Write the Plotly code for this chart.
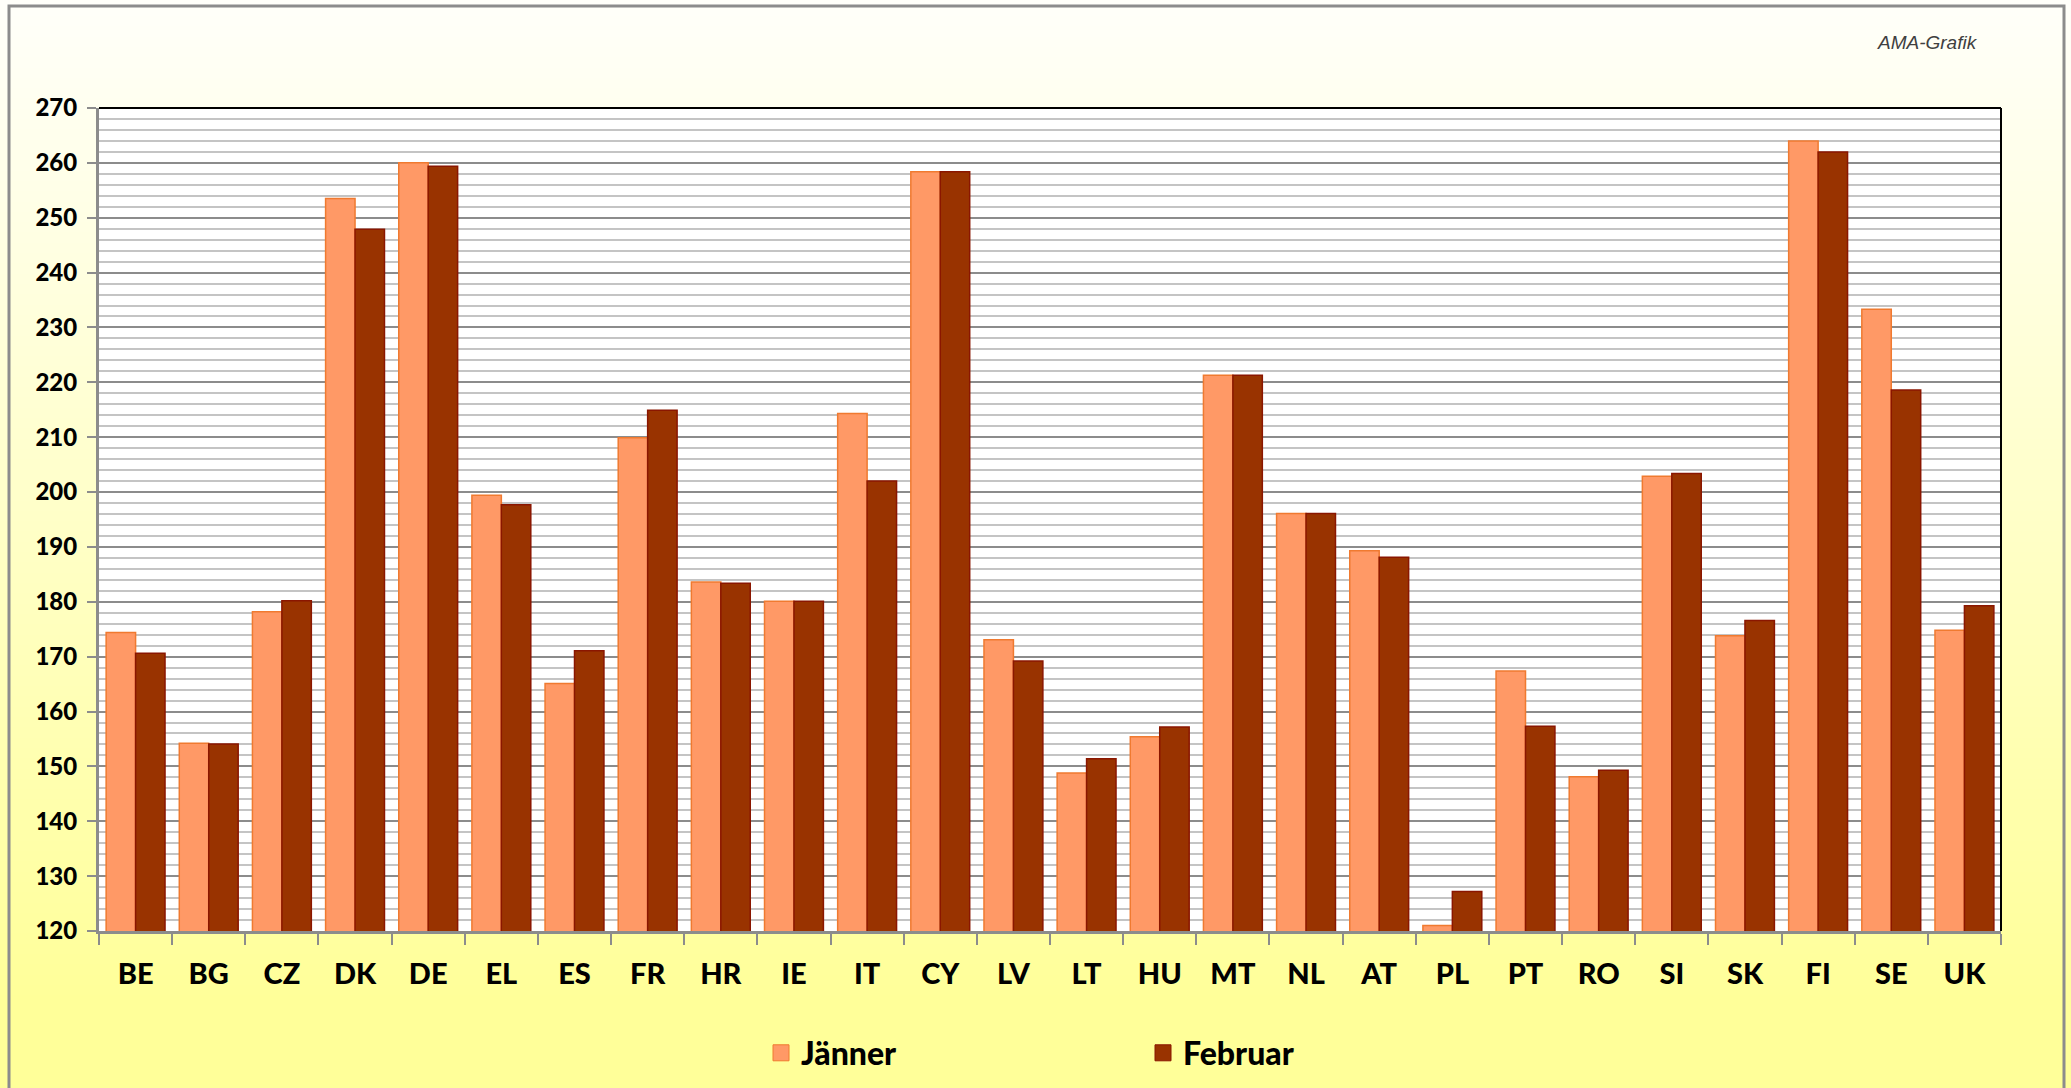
import base64, struct, zlib
import plotly.graph_objects as go

categories = ["BE", "BG", "CZ", "DK", "DE", "EL", "ES", "FR", "HR", "IE", "IT", "CY", "LV",
              "LT", "HU", "MT", "NL", "AT", "PL", "PT", "RO", "SI", "SK", "FI", "SE", "UK"]
jaenner = [174.4, 154.2, 178.2, 253.5, 260.0, 199.4, 165.1, 209.9, 183.6, 180.1, 214.3, 258.4, 173.1,
           148.8, 155.4, 221.3, 196.1, 189.3, 121.0, 167.4, 148.1, 202.9, 173.8, 264.0, 233.3, 174.8]
februar = [170.6, 154.1, 180.2, 247.9, 259.4, 197.7, 171.1, 214.9, 183.4, 180.1, 202.0, 258.4, 169.2,
           151.4, 157.2, 221.3, 196.1, 188.1, 127.2, 157.3, 149.3, 203.4, 176.6, 262.0, 218.6, 179.3]
y_range = [120, 270]
series_names = ["Jänner", "Februar"]

W, H = 2071, 1088
ML, MR, MT, MB = 99, 70, 108, 157
PW, PH = W - ML - MR, H - MT - MB


def gradient_png(h):
    raw = b""
    for i in range(h):
        t = min(i / 1000.0, 1.0)
        b = round(250 - (250 - 153) * t)
        raw += b"\x00" + bytes([255, 255, b])

    def chunk(tag, data):
        c = tag + data
        return struct.pack(">I", len(data)) + c + struct.pack(">I", zlib.crc32(c) & 0xFFFFFFFF)

    png = b"\x89PNG\r\n\x1a\n"
    png += chunk(b"IHDR", struct.pack(">IIBBBBB", 1, h, 8, 2, 0, 0, 0))
    png += chunk(b"IDAT", zlib.compress(raw))
    png += chunk(b"IEND", b"")
    return "data:image/png;base64," + base64.b64encode(png).decode()


FONT = "Lato"
fig = go.Figure()
fig.add_trace(go.Bar(x=categories, y=jaenner, name=series_names[0], showlegend=False,
                     marker=dict(color="#FF9966", line=dict(color="#F07A30", width=1.5))))
fig.add_trace(go.Bar(x=categories, y=februar, name=series_names[1], showlegend=False,
                     marker=dict(color="#993300", line=dict(color="#8A1600", width=1.5))))
# legend entries
fig.add_trace(go.Scatter(x=[None], y=[None], mode="markers", name=series_names[0],
                         marker=dict(symbol="square", size=16, color="#FF9966",
                                     line=dict(color="#F07A30", width=1))))
fig.add_trace(go.Scatter(x=[None], y=[None], mode="markers", name=series_names[1],
                         marker=dict(symbol="square", size=16, color="#993300",
                                     line=dict(color="#8A1600", width=1))))


def px_x(px):
    return (px - ML) / PW


def px_y(py):
    return (H - MB - py) / PH


fig.update_layout(
    width=W, height=H,
    margin=dict(l=ML, r=MR, t=MT, b=MB, autoexpand=False),
    paper_bgcolor="#FFFFFA",
    plot_bgcolor="white",
    barmode="group", bargap=0.195, bargroupgap=0,
    font=dict(family=FONT, color="black"),
    xaxis=dict(
        type="category", tickson="boundaries", ticks="outside", ticklen=11, tickwidth=2,
        tickcolor="#8C8C8C", showline=True, linecolor="#8C8C8C", linewidth=3,
        showgrid=False, tickfont=dict(family=FONT, size=29, weight=900, color="black"),
        ticklabelstandoff=15,
    ),
    yaxis=dict(
        range=y_range, tick0=120, dtick=10, ticks="outside", ticklen=9, tickwidth=2,
        tickcolor="#8C8C8C", showline=True, linecolor="#8C8C8C", linewidth=3,
        showgrid=True, gridcolor="#8C8C8C", gridwidth=2, zeroline=False,
        minor=dict(tick0=120, dtick=2, showgrid=True, gridcolor="#C4C4C4", gridwidth=2, ticks=""),
        tickfont=dict(family=FONT, size=24, weight=900, color="black"),
        ticklabelstandoff=5,
    ),
    legend=dict(
        orientation="h", x=px_x(761), y=px_y(1053), xanchor="left", yanchor="middle",
        bgcolor="rgba(0,0,0,0)", font=dict(family=FONT, size=32, weight=900, color="black"),
        entrywidth=337, entrywidthmode="pixels", itemsizing="trace",
    ),
    images=[dict(
        source=gradient_png(H), xref="paper", yref="paper",
        x=-ML / PW, y=1 + MT / PH, sizex=W / PW, sizey=H / PH,
        xanchor="left", yanchor="top", sizing="stretch", layer="below",
    )],
    shapes=[
        dict(type="rect", xref="paper", yref="paper", x0=0, x1=1, y0=0, y1=1,
             fillcolor="white", line=dict(width=0), layer="below"),
        dict(type="rect", xref="paper", yref="paper", x0=px_x(9), x1=px_x(2064),
             y0=px_y(1100), y1=px_y(6), line=dict(color="#8C8C8C", width=3), layer="above"),
        dict(type="line", xref="paper", yref="paper", x0=0, x1=1, y0=1, y1=1,
             line=dict(color="black", width=2), layer="above"),
        dict(type="line", xref="paper", yref="paper", x0=1, x1=1, y0=0, y1=1,
             line=dict(color="black", width=2), layer="above"),
    ],
    annotations=[dict(
        text="AMA-Grafik", xref="paper", yref="paper", x=px_x(1927), y=px_y(43),
        xanchor="center", yanchor="middle", showarrow=False,
        font=dict(family="Liberation Sans", size=19, style="italic", color="#404040"),
    )],
)

fig.write_html("out.html")
